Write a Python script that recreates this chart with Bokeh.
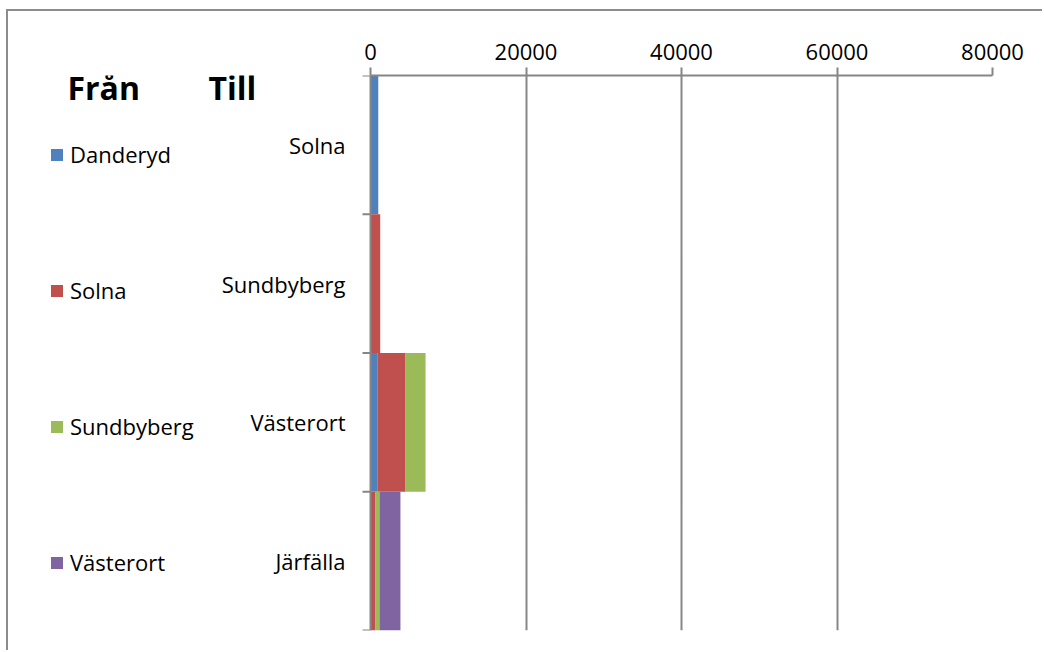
from bokeh.plotting import figure
from bokeh.models import (Range1d, LinearAxis, FixedTicker, Legend, LegendItem, Label,
                          LabelSet, Span, ColumnDataSource)
from bokeh.core.properties import value
from bokeh.embed import file_html
from bokeh.resources import INLINE
import math

# ---- data ----
destinations = ["Solna", "Sundbyberg", "Västerort", "Järfälla"]   # "Till", top to bottom
origins = ["Danderyd", "Solna", "Sundbyberg", "Västerort"]         # "Från"
danderyd = [1000, 0, 870, 0]
solna = [0, 1250, 3640, 650]
sundbyberg = [0, 0, 2570, 500]
vasterort = [0, 0, 0, 2700]
x_ticks = [0, 20000, 40000, 60000, 80000]
colors = ["#4F81BD", "#C0504D", "#9BBB59", "#8064A2"]

FONT = "Open Sans"
GRAY = "#868686"

n = len(destinations)
ypos = [n - i - 0.5 for i in range(n)]
source = ColumnDataSource({"y": ypos, "dest": destinations, "Danderyd": danderyd, "Solna": solna,
                           "Sundbyberg": sundbyberg, "Västerort": vasterort})

# layout: frame spans the legend area too; value 0 sits LEFT_PX into the frame
FRAME_W = 984
LEFT_PX = 362
x_max = x_ticks[-1]
x_start = -x_max * LEFT_PX / (FRAME_W - LEFT_PX)

p = figure(width=1036, height=641, output_backend="svg", toolbar_location=None,
           y_range=Range1d(0, n), x_range=Range1d(x_start, x_max),
           x_axis_location=None, y_axis_location=None,
           min_border_left=0, min_border_right=52, min_border_top=64, min_border_bottom=22)
p.outline_line_color = None
p.background_fill_color = "white"
p.border_fill_color = "white"
# chart-area border only on the top and left edges (drawn as an offset shadow)
p.styles = {"margin-left": "8px", "margin-top": "11px",
            "box-shadow": "-2px -2px 0px 0px #8c8c8c"}

renderers = p.hbar_stack(origins, y="y", height=1.0, color=colors, line_color=None, source=source)

# top value axis
xa = LinearAxis(ticker=FixedTicker(ticks=x_ticks), bounds=(0, x_max))
xa.axis_line_color = GRAY
xa.axis_line_width = 2
xa.major_tick_line_color = GRAY
xa.major_tick_line_width = 2
xa.major_tick_out = 8
xa.major_tick_in = 0
xa.minor_tick_line_color = None
xa.major_label_text_font = FONT
xa.major_label_text_font_size = "22px"
xa.major_label_text_color = "black"
xa.major_label_standoff = 8
p.add_layout(xa, "above")

# grid
p.xgrid.ticker = FixedTicker(ticks=x_ticks[1:])
p.xgrid.grid_line_color = GRAY
p.xgrid.grid_line_width = 2
p.ygrid.grid_line_color = None

# category axis: line at x=0, boundary ticks, labels
p.add_layout(Span(location=0, dimension="height", line_color=GRAY, line_width=2))
p.ray(x=0, y=list(range(n + 1)), length=8, length_units="screen", angle=math.pi,
      line_color=GRAY, line_width=2)
p.add_layout(LabelSet(x=0, y="y", text="dest", source=source, x_offset=-25,
                      text_align="right", text_baseline="middle",
                      text_font=value(FONT), text_font_size="22px", text_color="black"))

# legend
items = [LegendItem(label=name, renderers=[r]) for name, r in zip(origins, renderers)]
legend = Legend(items=items, location=(41, 53))
legend.label_text_font = FONT
legend.label_text_font_size = "22px"
legend.label_text_color = "black"
legend.glyph_width = 15
legend.glyph_height = 15
legend.label_height = 30
legend.label_standoff = 6
legend.spacing = 106
legend.padding = 0
legend.margin = 0
legend.border_line_color = None
legend.background_fill_color = None
p.add_layout(legend, "center")

for txt, x in [("Från", 59), ("Till", 200)]:
    p.add_layout(Label(x=x, y=543, x_units="screen", y_units="screen", text=txt,
                       text_font=FONT, text_font_style="bold", text_font_size="32px",
                       text_color="black", text_baseline="alphabetic"))

open("out.html", "w").write(file_html(p, INLINE))
